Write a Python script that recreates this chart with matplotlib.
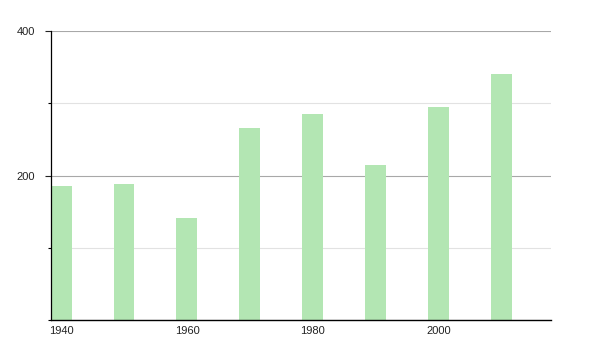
import matplotlib
matplotlib.use("Agg")
import matplotlib.pyplot as plt
from matplotlib.ticker import MultipleLocator

years = [1940, 1950, 1960, 1970, 1980, 1990, 2000, 2010]
values = [185, 188, 141, 266, 285, 214, 295, 341]
xticks = [1940, 1960, 1980, 2000]
yticks = [200, 400]

plt.rcParams['font.family'] = ['Liberation Sans', 'DejaVu Sans']

fig = plt.figure(figsize=(6, 3.5), dpi=100)
ax = fig.add_axes([50.5/600, 30/350, 500.5/600, 289/350])

ax.bar(years, values, width=3.33, color='#b3e6b3', zorder=2)

ax.set_xlim(1938.33, 2017.8)
ax.set_ylim(0, 400)
ax.set_xticks(xticks)
ax.set_xticklabels([str(t) for t in xticks])
ax.set_yticks(yticks)
ax.set_yticklabels([str(t) for t in yticks])
ax.yaxis.set_minor_locator(MultipleLocator(100))

ax.grid(axis='y', which='major', color='#a8a8a8', linewidth=0.8, zorder=0)
ax.grid(axis='y', which='minor', color='#e2e2e2', linewidth=0.8, zorder=0)

for s in ['top', 'right']:
    ax.spines[s].set_visible(False)
ax.spines['left'].set_linewidth(0.9)
ax.spines['bottom'].set_linewidth(1.0)

ax.tick_params(axis='x', length=0, pad=4, labelsize=8, colors='#222222')
ax.tick_params(axis='y', which='major', length=4, width=0.8, pad=7, labelsize=8, colors='#222222')
ax.tick_params(axis='y', which='minor', length=2, width=0.8)

fig.savefig('out.png', dpi=100)
